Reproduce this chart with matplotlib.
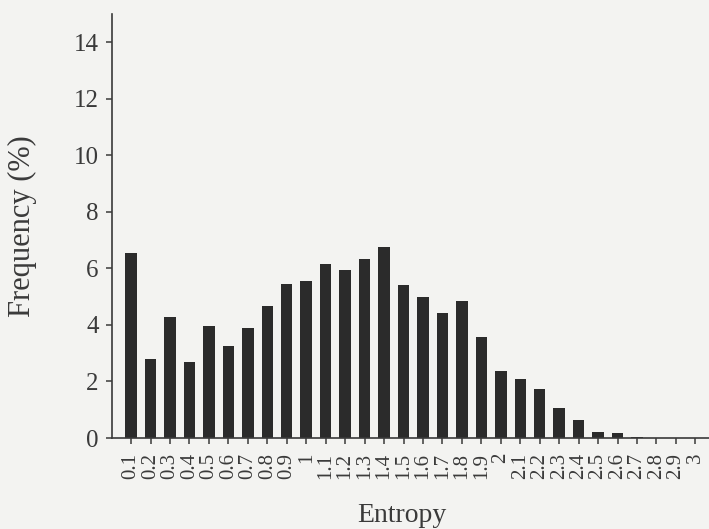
import numpy as np
import matplotlib
matplotlib.use("Agg")
import matplotlib.pyplot as plt

# entropy bins and frequency (%)
entropy = ['0.1', '0.2', '0.3', '0.4', '0.5', '0.6', '0.7', '0.8', '0.9', '1',
           '1.1', '1.2', '1.3', '1.4', '1.5', '1.6', '1.7', '1.8', '1.9', '2',
           '2.1', '2.2', '2.3', '2.4', '2.5', '2.6', '2.7', '2.8', '2.9', '3']
frequency = [6.54, 2.81, 4.28, 2.68, 3.96, 3.25, 3.88, 4.67, 5.45, 5.56,
             6.15, 5.95, 6.35, 6.77, 5.40, 4.98, 4.44, 4.86, 3.58, 2.38,
             2.09, 1.74, 1.05, 0.62, 0.20, 0.17, 0.04, 0.0, 0.0, 0.0]
y_ticks = [0, 2, 4, 6, 8, 10, 12, 14]

plt.rcParams['font.family'] = ['Liberation Serif', 'DejaVu Serif']

bg = '#f3f3f1'
ink = '#3a3a3a'

fig = plt.figure(figsize=(7.09, 5.29), dpi=100, facecolor=bg)
ax = fig.add_axes([0.158, 0.172, 0.842, 0.8015])
ax.set_facecolor(bg)

x = np.arange(len(entropy))
ax.bar(x, frequency, width=0.59, color='#2b2b2b', edgecolor='none')

ax.set_xlim(-0.98, 29.7)
ax.set_ylim(0, 15)
ax.set_xticks(x)
ax.set_xticklabels(entropy, rotation=90, fontsize=15, color=ink)
ax.set_yticks(y_ticks)
ax.set_yticklabels([str(v) for v in y_ticks], fontsize=18, color=ink)

for side in ['top', 'right']:
    ax.spines[side].set_visible(False)
for side in ['left', 'bottom']:
    ax.spines[side].set_color(ink)
    ax.spines[side].set_linewidth(1.2)
ax.tick_params(axis='y', direction='out', length=4.5, width=1.1, color=ink, pad=5)
ax.tick_params(axis='x', direction='out', length=4.5, width=1.1, color=ink, pad=6)

ax.set_xlabel('Entropy', fontsize=20, color=ink)
ax.set_ylabel('Frequency (%)', fontsize=22, color=ink)
ax.xaxis.set_label_coords(0.486, -0.153)
ax.yaxis.set_label_coords(-0.126, 0.5)

fig.savefig('out.png', dpi=100, facecolor=bg)
